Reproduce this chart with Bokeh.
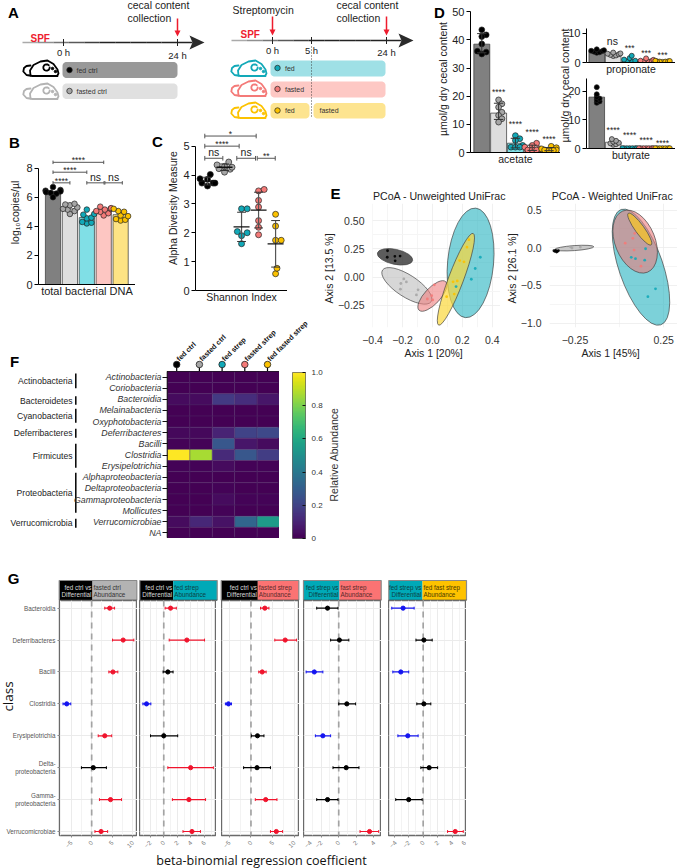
import numpy as np
from bokeh.plotting import figure
from bokeh.embed import file_html
from bokeh.resources import INLINE
from bokeh.core.properties import value
from bokeh.models import FixedTicker, FactorRange, Range1d
from bokeh.palettes import Viridis256
from bokeh.transform import linear_cmap

FONT = "Liberation Sans"
GROUP_COLORS = ["#000000", "#a6a6a6", "#12a9b8", "#f47a78", "#fcc200"]
BAR_COLORS = ["#808080", "#dedede", "#80dfe6", "#fdc6c2", "#fde384"]

# ---- panel B
b_values = [[6.7, 6.5, 6.45, 6.4, 6.35, 6.3, 6.25, 6.0],
            [4.85, 5.05, 5.15, 5.2, 5.3, 5.45, 5.55, 5.5],
            [4.2, 4.25, 4.3, 4.55, 4.6, 4.8, 4.85, 5.15],
            [4.75, 4.9, 5.0, 5.05, 5.15, 5.2, 5.25, 5.35],
            [4.4, 4.45, 4.5, 4.7, 4.75, 5.0, 5.05, 5.2]]
b_heights = [6.4, 5.2, 4.6, 5.1, 4.8]
b_brackets = [(0, 3, 8.4, "****"), (0, 2, 7.72, "****"), (0, 1, 6.99, "****"),
              (2, 3.02, 6.99, "ns"), (3.07, 4.1, 6.99, "ns")]
# ---- panel C
c_values = [[3.62, 3.72, 3.72, 3.72, 3.85, 3.87, 4.02],
            [4.1, 4.2, 4.22, 4.27, 4.3, 4.35, 4.45],
            [1.62, 1.9, 2.0, 2.04, 2.83, 2.83],
            [1.93, 2.19, 2.42, 2.89, 3.12, 3.45, 3.5],
            [0.58, 0.77, 1.74, 1.74, 2.23, 2.64]]
c_brackets = [(-0.16, 2.86, 5.35, "*"), (-0.16, 1.86, 5.0, "****"), (-0.16, 0.9, 4.58, "ns"),
              (1.72, 2.82, 4.58, "ns"), (2.92, 3.98, 4.58, "**")]
# ---- panel D
acetate = [[43.6, 41.8, 41.2, 38.6, 36, 35.7, 35],
           [18.7, 17.3, 16.1, 14.3, 13.2, 12, 10.8],
           [6, 4.9, 4.3, 2.5, 1.9, 1.9, 1.9],
           [3.3, 2.5, 1.9, 1.3, 0.9, 0.9, 0.9],
           [2.2, 1.7, 1.3, 0.9, 0.9, 0.7, 0.7]]
acetate_h = [38.5, 14, 3.3, 1.5, 1.2]
acetate_sig = [None, 21.4, 10, 7.2, 4.9]
propionate = [[3.3, 3.5, 3.7, 3.9, 4.0, 4.2, 4.5],
              [2.2, 2.4, 2.6, 2.8, 3.0, 3.1, 3.4],
              [0.2, 0.3, 0.4, 0.6, 1.0, 1.5, 2.3],
              [0.2, 0.3, 0.3, 0.5, 0.6, 0.9, 1.4],
              [0.2, 0.3, 0.3, 0.4, 0.4, 0.5, 0.6]]
propionate_h = [3.8, 2.8, 0.5, 0.5, 0.3]
propionate_sig = [None, None, 5.0, 3.3, 2.4]
butyrate = [[16, 16.5, 17, 17.5, 18, 19, 21.5],
            [1.3, 1.5, 1.8, 2.0, 2.4, 2.7, 3.3],
            [0.1] * 7, [0.1] * 7, [0.1] * 7]
butyrate_h = [18, 2.2, 0.2, 0.2, 0.2]
butyrate_sig = [None, 6.6, 4.6, 3.1, 2.0]
# ---- panel E
pcoa_u_x = [-0.30, -0.302, -0.251, -0.216, -0.249, -0.191, -0.174, -0.211, -0.214, -0.096, -0.107,
            0.013, -0.034, -0.005, 0.002, 0.095, 0.138, 0.166, 0.146, 0.182, 0.211, 0.231, 0.244, 0.32, 0.286, 0.26, 0.158]
pcoa_u_y = [0.234, 0.176, 0.184, 0.187, 0.144, -0.017, -0.044, -0.058, -0.108, -0.114, -0.16,
            -0.07, -0.196, -0.166, -0.204, -0.175, -0.043, -0.035, -0.152, 0.147, 0.135, 0.266, 0.333, 0.176, 0.076, -0.02, -0.085]
pcoa_u_g = [0] * 5 + [1] * 6 + [3] * 4 + [4] * 8 + [2] * 4
pcoa_u_ell = [(0.255, 0.126, 110, 46, 84.6, "#25b3bf", 0.6), (-0.25, 0.18, 36, 15, -12, "#333333", 0.8),
              (-0.171, -0.079, 58, 22, -33, "#bdbdbd", 0.6), (0.0, -0.169, 39, 16, 47, "#ee7f7f", 0.6),
              (0.157, -0.02, 98, 15, 69.4, "#fbd73a", 0.7)]
pcoa_w_x = [-0.369, -0.359, -0.35, -0.344, -0.363, -0.354, -0.276, -0.267, -0.22, 0.087, 0.076, 0.033, 0.083, 0.122,
            0.148, 0.143, 0.067, 0.091, 0.204, 0.161]
pcoa_w_y = [-0.039, -0.035, -0.048, -0.039, -0.048, -0.056, 0.013, -0.004, 0.009, 0.192, 0.126, 0.061, -0.03, -0.244,
            -0.013, -0.165, -0.126, -0.144, -0.544, -0.648]
pcoa_w_g = [0] * 6 + [1] * 3 + [3] * 5 + [2] * 6
pcoa_w_ell = [(0.122, -0.257, 122, 44, -71, "#25b3bf", 0.6), (0.089, 0.082, 66, 40, -68, "#ec7c7c", 0.6),
              (0.115, 0.248, 39, 9, -54, "#f2c12e", 0.8), (-0.254, -0.004, 39, 5, 4, "#bdbdbd", 0.8)]
# ---- panel F
f_rows = ["Actinobacteria", "Coriobacteria", "Bacteroidia", "Melainabacteria", "Oxyphotobacteria", "Deferribacteres",
          "Bacilli", "Clostridia", "Erysipelotrichia", "Alphaproteobacteria", "Deltaproteobacteria",
          "Gammaproteobacteria", "Mollicutes", "Verrucomicrobiae", "NA"]
f_cols = ["fed ctrl", "fasted ctrl", "fed strep", "fasted strep", "fed fasted strep"]
f_fed_ctrl = [0.0, 0.0, 0.03, 0.0, 0.0, 0.02, 0.01, 1.0, 0.01, 0.0, 0.0, 0.0, 0.0, 0.03, 0.0]
f_fasted_ctrl = [0.0, 0.0, 0.03, 0.0, 0.0, 0.02, 0.01, 0.87, 0.01, 0.0, 0.0, 0.0, 0.0, 0.11, 0.0]
f_fed_strep = [0.0, 0.0, 0.17, 0.0, 0.0, 0.1, 0.27, 0.12, 0.03, 0.0, 0.01, 0.03, 0.01, 0.05, 0.0]
f_fasted_strep = [0.0, 0.0, 0.13, 0.0, 0.0, 0.2, 0.06, 0.27, 0.01, 0.0, 0.0, 0.01, 0.0, 0.33, 0.0]
f_fed_fasted = [0.0, 0.0, 0.06, 0.0, 0.0, 0.22, 0.03, 0.18, 0.01, 0.0, 0.0, 0.01, 0.0, 0.55, 0.0]
f_phyla = [("Actinobacteria", 373, 387.7), ("Bacteroidetes", 395.7, 404.3), ("Cyanobacteria", 408.3, 422.3),
           ("Deferribacteres", 428.3, 437.3), ("Firmicutes", 443.3, 467.3), ("Proteobacteria", 472.3, 512.3),
           ("Verrucomicrobia", 518.3, 527.3)]
# ---- panel G
g_classes = ["Bacteroidia", "Deferribacteres", "Bacilli", "Clostridia", "Erysipelotrichia",
             "Delta-\nproteobacteria", "Gamma-\nproteobacteria", "Verrucomicrobiae"]
g1_low = [3.2, 5.1, 4.2, -7.0, 1.6, -2.5, 1.9, 0.8]
g1_mid = [4.4, 7.7, 5.2, -6.1, 3.2, 0.4, 4.6, 2.3]
g1_high = [5.6, 10.3, 6.4, -5.1, 4.9, 3.6, 7.3, 3.9]
g1_col = ["r", "r", "r", "b", "r", "k", "r", "r"]
g2_low = [0.2, 0.8, -0.1, -3.07, -1.95, 0.6, 1.27, 2.83]
g2_mid = [1.0, 3.4, 0.6, -2.54, 0.0, 3.95, 3.7, 4.15]
g2_high = [1.85, 6.0, 1.37, -1.9, 2.05, 7.3, 6.15, 5.4]
g2_col = ["r", "r", "k", "b", "k", "r", "r", "r"]
g3_low = [2.2, 5.5, 1.8, -5.9, 0.1, -1.7, 1.0, 4.5]
g3_mid = [3.2, 7.9, 2.6, -5.2, 1.5, 1.4, 3.4, 5.85]
g3_high = [4.15, 10.5, 3.5, -4.5, 3.0, 4.5, 6.0, 7.3]
g3_col = ["r", "r", "r", "b", "k", "k", "r", "r"]
g4_low = [-2.5, -0.92, -3.7, 0.0, -2.65, -0.65, -2.5, 2.42]
g4_mid = [-1.27, 0.08, -2.77, 0.92, -1.8, 0.85, -1.27, 3.5]
g4_high = [-0.08, 1.15, -1.8, 1.92, -0.92, 2.3, -0.08, 4.54]
g4_col = ["k", "k", "b", "k", "b", "k", "k", "r"]
g5_low = [-4.35, -1.0, -4.2, -0.88, -3.5, -0.32, -3.8, 3.38]
g5_mid = [-2.78, 0.1, -3.1, 0.1, -2.13, 0.83, -2.0, 4.44]
g5_high = [-1.25, 1.25, -2.0, 1.06, -0.7, 2.0, -0.14, 5.55]
g5_col = ["b", "k", "b", "k", "b", "k", "k", "r"]

figs = []


def panel(l, t, r, b, xr, yr, pl=0, pt=0, pr=0, pb=0, **kw):
    """Figure whose plot frame covers page pixels l..r, t..b."""
    p = figure(width=int(round(r - l)) + pl + pr, height=int(round(b - t)) + pt + pb,
               x_range=xr, y_range=yr, output_backend="svg", toolbar_location=None,
               min_border_left=pl, min_border_right=pr, min_border_top=pt, min_border_bottom=pb,
               background_fill_alpha=0, border_fill_alpha=0, outline_line_color=None,
               styles={"position": "absolute", "left": f"{int(round(l)) - pl}px", "top": f"{int(round(t)) - pt}px"},
               **kw)
    p.grid.visible = False
    figs.append(p)
    return p


# ============ canvas in page pixels ==========
cv = panel(0, 0, 677, 868, Range1d(0, 677), Range1d(868, 0))
cv.axis.visible = False


def T(x, y, s, size=10.5, color="#222222", align="left", base="middle", angle=0, style="normal", font=FONT):
    cv.text(x=[x], y=[y], text=[s], text_font=value(font), text_font_size=f"{size}px", text_color=color,
            text_align=align, text_baseline=base, angle=-np.deg2rad(angle), text_font_style=style)


def rrect(l, t, r, b, color, rad=4.0):
    a = np.linspace(0, np.pi / 2, 8)
    xs = np.r_[r - rad + rad * np.sin(a), r - rad + rad * np.cos(a), l + rad - rad * np.sin(a), l + rad - rad * np.cos(a)]
    ys = np.r_[t + rad - rad * np.cos(a), b - rad + rad * np.sin(a), b - rad + rad * np.cos(a), t + rad - rad * np.sin(a)]
    cv.patch(xs, ys, fill_color=color, line_color=None)


def dot(x, y, fill, d=5.5, line="#222222", lw=0.7):
    cv.scatter([x], [y], size=d, fill_color=fill, line_color=line, line_width=lw)


def timeline(x0, x1, y, ticks):
    xs = np.linspace(x0, x1 - 12, 12)
    for i in range(11):
        g = int(170 - 135 * min(1, i / 5))
        cv.line(xs[i:i + 2], [y, y], line_color=f"#{g:02x}{g:02x}{g:02x}", line_width=1.3)
    cv.patch([x1 - 15, x1, x1 - 15, x1 - 12], [y - 7, y, y + 7, y], fill_color="#2b2b2b", line_color=None)
    for t in ticks:
        cv.line([t, t], [y - 3.5, y + 3.5], line_color="#222222", line_width=1)


def red_arrow(x, y0, y1):
    cv.line([x, x], [y0, y1 - 4], line_color="#ee1c2e", line_width=1.5)
    cv.patch([x - 3, x + 3, x], [y1 - 6, y1 - 6, y1], fill_color="#ee1c2e", line_color=None)


def mouse(x, y, c):
    tail = [(35, 16.5), (28, 16.5), (10, 16.5), (4, 15.5), (0.8, 12), (1.5, 8.5), (4, 6.5), (8, 6)]
    body = [(8, 16), (7.5, 11), (11, 5.5), (18, 2), (25, 1), (31, 4.5), (35, 10), (36, 14), (34.5, 16.5)]
    ear = [(24 + 3.2 * np.cos(a), 8 + 3.2 * np.sin(a)) for a in np.linspace(0, 5.5, 14)]
    for path in (tail, body, ear):
        cv.line([x + q[0] for q in path], [y + q[1] for q in path], line_color=c, line_width=1.8,
                line_join="round", line_cap="round")
    cv.scatter([x + 30, x + 33], [y + 9, y + 12], size=2.5, fill_color=c, line_color=c)


# Panel letters
for s, x, y in [("A", 13, 12), ("B", 14, 142), ("C", 157, 141), ("D", 439, 12), ("E", 335, 193), ("F", 14, 361), ("G", 13, 578)]:
    T(x, y, s, size=15, color="#000000", align="center", style="bold")

# Panel A
timeline(22, 204, 42, [63, 177])
timeline(231, 413, 40, [272, 311, 386])
red_arrow(177, 18, 36)
red_arrow(272, 16, 35)
red_arrow(386, 16, 35)
T(30, 38, "SPF", size=10, color="#ee1c2e", style="bold")
T(240, 34, "SPF", size=10, color="#ee1c2e", style="bold")
T(127, 4, "cecal content", size=10.5)
T(127, 17, "collection", size=10.5)
T(336, 4, "cecal content", size=10.5)
T(336, 17, "collection", size=10.5)
T(232, 9, "Streptomycin", size=10.5)
for x, y, s in [(63, 52, "0 h"), (177, 55, "24 h"), (272, 50, "0 h"), (311, 50, "5 h"), (386, 52, "24 h")]:
    T(x, y, s, size=9.5, align="center")
mouse(22, 59, "#000000")
mouse(22, 82, "#b3b3b3")
mouse(230, 59, "#12a9b8")
mouse(230, 79, "#f47a78")
mouse(230, 101, "#fcc200")
rrect(62, 61.5, 177, 77.5, "#999999")
rrect(62, 83, 177, 98.5, "#e0e0e0")
rrect(270, 60, 385, 76, "#9fe0e6")
rrect(270, 81, 385, 97, "#fdc8c4")
rrect(270, 102.5, 309, 118, "#fde490")
rrect(313, 102.5, 385, 118, "#fde490")
cv.line([311, 311], [46, 118], line_color="#333333", line_width=0.9, line_dash="1 2")
dot(69, 69.5, "#000000")
dot(69, 90.5, "#a6a6a6")
dot(277, 67.5, "#12a9b8")
dot(277, 88.5, "#f47a78")
dot(277, 110, "#fcc200")
T(76, 70, "fed ctrl", size=7, color="#333333")
T(76, 90.5, "fasted ctrl", size=7, color="#333333")
T(284.5, 67.5, "fed", size=7, color="#333333")
T(284.5, 88.5, "fasted", size=7, color="#333333")
T(284.5, 110, "fed", size=7, color="#333333")
T(319, 110, "fasted", size=7, color="#333333")

# Panel E titles
T(439, 195, "PCoA - Unweighted UniFrac", size=10.6, align="center")
T(612, 195, "PCoA - Weighted UniFrac", size=10.6, align="center")

# Panel F decorations
for name, y0, y1 in f_phyla:
    cv.line([75.3, 75.3], [y0, y1], line_color="#000000", line_width=1.5)
    T(72, (y0 + y1) / 2, name, size=8.6, align="right")
for i, name in enumerate(f_cols):
    cx = 176.2 + 22.7 * i
    cv.line([cx, cx], [364, 371], line_color="#000000", line_width=1.2)
    dot(cx, 364, GROUP_COLORS[i], d=6.5, line="#222222", lw=0.8)
    T(cx + 1, 359.5, name, size=7.2, color="#111111", base="middle", angle=-45, style="bold")
T(333, 454, "Relative Abundance", size=10.5, color="#333333", align="center", angle=-90)

# Panel G strips
strips = [(58.7, 92, 136.3, "#000000", "#b3b3b3", "fed ctrl vs", "Differential", "fasted ctrl", "#d8d8d8", "#333333"),
          (139.3, 172.7, 216.7, "#000000", "#00a9b7", "fed ctrl vs", "Differential", "fed strep", "#d8d8d8", "#0d3f45"),
          (220.7, 257.3, 298.3, "#000000", "#fb7373", "fed ctrl vs", "Differential", "fasted strep", "#d8d8d8", "#5a2a2a"),
          (303, 339, 380.7, "#00a9b7", "#fb7373", "fed strep vs", "Differential", "fast strep", "#0d3f45", "#5a2a2a"),
          (388.3, 422, 466, "#00a9b7", "#fec200", "fed strep vs", "Differential", "fed fast strep", "#0d3f45", "#4a3a00")]
for l, m, r, c1, c2, a, b, c, tc1, tc2 in strips:
    cv.quad(left=[l], right=[m], top=[580], bottom=[599.7], fill_color=c1, line_color=None)
    cv.quad(left=[m], right=[r], top=[580], bottom=[599.7], fill_color=c2, line_color=None)
    cv.line([l, l, r, r], [599.7, 580, 580, 599.7], line_color="#8a8a8a", line_width=1.2)
    cv.line([l, r], [599.7, 599.7], line_color="#444444", line_width=1.0)
    T(m - 1, 586.5, a, size=6.3, color=tc1, align="right")
    T(m - 1, 593.7, b, size=6.3, color=tc1, align="right")
    T(m + 1, 586.5, c, size=6.3, color=tc2)
    T(m + 1, 593.7, "Abundance", size=6.3, color=tc2)
T(7, 696, "class", size=13.5, color="#111111", align="center", angle=-90, font="Open Sans")
T(261, 860, "beta-binomial regression coefficient", size=12.6, color="#111111", align="center", font="Open Sans")


# ============ helpers for dot-bar panels ==========
def swarm(vals, step, d):
    """Beeswarm offsets (px) so that points of spacing d do not overlap."""
    placed, out = [], {}
    for i in np.argsort(vals):
        v = vals[i] * step
        for c in np.r_[0, np.c_[np.arange(1, 40), -np.arange(1, 40)].ravel() * d * 0.25]:
            if all(np.hypot(v - a, c - b) >= d for a, b in placed):
                placed.append((v, c))
                out[i] = c
                break
    return [out[i] for i in range(len(vals))]


def axes_black(p, size="11px"):
    for ax in p.axis:
        ax.axis_line_color = "#000000"
        ax.major_tick_line_color = "#000000"
        ax.minor_tick_line_color = None
        ax.major_label_text_font = FONT
        ax.major_label_text_font_size = size
        ax.major_label_text_color = "#222222"
        ax.axis_label_text_font = FONT
        ax.axis_label_text_font_style = "normal"
        ax.axis_label_text_color = "#222222"
        ax.major_tick_out = 4
        ax.major_tick_in = 0
        ax.major_label_standoff = 2


def dotbar(p, heights, vals, pxstep, group_px, size, spacing, width=0.9, err=True):
    xs = np.arange(5)
    p.vbar(x=xs, top=heights, width=width, fill_color=BAR_COLORS, line_color="#333333", line_width=0.7)
    draw_points(p, vals, pxstep, group_px, size, spacing, err)


def draw_points(p, vals, pxstep, group_px, size, spacing, err, capw=0.28):
    for i, v in enumerate(vals):
        off = np.clip(swarm(v, pxstep, spacing), -0.44 * group_px, 0.44 * group_px)
        p.scatter(i + off / group_px, v, size=size, fill_color=GROUP_COLORS[i], line_color="#222222", line_width=0.7)
        if err:
            m, s = np.mean(v), np.std(v, ddof=1)
            p.segment([i], [m - s], [i], [m + s], line_color="#333333", line_width=1)
            p.segment([i - capw, i - capw], [m - s, m + s], [i + capw, i + capw], [m - s, m + s],
                      line_color="#333333", line_width=1)


def brackets(p, items, cap, star="8.5px", ns="10.5px"):
    for a, b, y, s in items:
        p.segment([a], [y], [b], [y], line_color="#555555", line_width=1)
        p.segment([a, b], [y - cap, y - cap], [a, b], [y + cap, y + cap], line_color="#555555", line_width=1)
        isns = s == "ns"
        p.text([(a + b) / 2], [y], text=[s], text_font=value(FONT), text_font_size=ns if isns else star,
               text_color="#222222", text_align="center", text_baseline="bottom", y_offset=0 if isns else 3)


def none_x(p, label, standoff):
    ax = p.xaxis[0]
    ax.ticker = FixedTicker(ticks=[])
    ax.axis_label = label
    ax.axis_label_standoff = standoff
    ax.major_label_text_font_size = "0px"


# ============ Panel B ==========
sb = 116.6 / 8
pb_ = panel(38, 140, 135, 284.3, Range1d(-0.858, 4.88), Range1d(0, 144.3 / sb), pl=38, pb=20)
dotbar(pb_, b_heights, b_values, sb, 16.9, 5.6, 4.6, err=False)
brackets(pb_, b_brackets, 0.12)
axes_black(pb_)
pb_.yaxis.bounds = (0, 8)
pb_.yaxis.ticker = FixedTicker(ticks=[0, 2, 4, 6, 8])
pb_.yaxis.axis_label = "log₁₀copies/µl"
pb_.yaxis.axis_label_text_font_size = "10.5px"
pb_.yaxis.axis_label_standoff = 2
none_x(pb_, "total bacterial DNA", 0)
pb_.xaxis.axis_label_text_font_size = "11px"

# ============ Panel C ==========
sc = 28.87
pc = panel(195, 125, 287, 290, Range1d(-0.706, 4.7), Range1d(0, 165 / sc), pl=38, pb=20)
draw_points(pc, c_values, sc, 17, 6, 5.6, False)
for i, v in enumerate(c_values):
    m, s = np.mean(v), np.std(v, ddof=1)
    pc.segment([i], [m - s], [i], [m + s], line_color="#555555", line_width=1.2)
    pc.segment([i - 0.26, i - 0.26], [m - s, m + s], [i + 0.26, i + 0.26], [m - s, m + s], line_color="#333333", line_width=1)
    pc.segment([i - 0.47], [m], [i + 0.47], [m], line_color="#111111", line_width=1.3)
brackets(pc, c_brackets, 0.08)
axes_black(pc)
pc.yaxis.bounds = (0, 5)
pc.yaxis.ticker = FixedTicker(ticks=[0, 1, 2, 3, 4, 5])
pc.yaxis.axis_label = "Alpha Diversity Measure"
pc.yaxis.axis_label_text_font_size = "10.5px"
pc.yaxis.axis_label_standoff = 1
none_x(pc, "Shannon Index", 0)
pc.xaxis.axis_label_text_font_size = "10.5px"


# ============ Panel D ==========
def sig(p, pos, s="****"):
    for i, y in enumerate(pos):
        if y is not None:
            p.text([i], [y], text=[s], text_font=value(FONT), text_font_size="8.5px", text_color="#222222",
                   text_align="center", text_baseline="middle")


sd = 2.814
pd_ = panel(470, 5, 560, 152, Range1d(-(481.3 - 470) / 16.8, (560 - 481.3) / 16.8), Range1d(0, 147 / sd), pl=42, pb=18)
dotbar(pd_, acetate_h, acetate, sd, 16.8, 5.8, 4.4, width=0.95)
sig(pd_, acetate_sig)
axes_black(pd_)
pd_.yaxis.bounds = (0, 50)
pd_.yaxis.ticker = FixedTicker(ticks=[0, 10, 20, 30, 40, 50])
pd_.yaxis.axis_label = "µmol/g dry cecal content"
pd_.yaxis.axis_label_text_font_size = "10.5px"
pd_.yaxis.axis_label_standoff = 0
none_x(pd_, "acetate", 0)
pd_.xaxis.axis_label_text_font_size = "10.5px"

sp = 2.93
pp = panel(585.7, 20, 675, 62, Range1d(-(596 - 585.7) / 16.5, (675 - 596) / 16.5), Range1d(0, 42 / sp), pl=26, pb=18)
dotbar(pp, propionate_h, propionate, sp, 16.5, 5, 2.8, width=0.95, err=False)
sig(pp, propionate_sig, "***")
pp.text([0.95], [7.3], text=["ns"], text_font=value(FONT), text_font_size="10.5px", text_color="#222222",
        text_align="center", text_baseline="middle")
axes_black(pp)
pp.yaxis.bounds = (0, 11.5)
pp.yaxis.ticker = FixedTicker(ticks=[0, 10])
none_x(pp, "propionate", 0)
pp.xaxis.axis_label_text_font_size = "10.5px"

sbt = 2.865
pq = panel(585.7, 72, 675, 148.3, Range1d(-(596 - 585.7) / 16.5, (675 - 596) / 16.5), Range1d(0, 76.3 / sbt), pl=26, pb=18)
dotbar(pq, butyrate_h, butyrate, sbt, 16.5, 5, 2.8, width=0.95, err=False)
sig(pq, butyrate_sig)
axes_black(pq)
pq.yaxis.bounds = (0, 24.5)
pq.yaxis.ticker = FixedTicker(ticks=[0, 10, 20])
none_x(pq, "butyrate", 0)
pq.xaxis.axis_label_text_font_size = "10.5px"
T(564.5, 85, "µmol/g dry cecal content", size=10.5, align="center", angle=-90)


# ============ Panel E ==========
def pcoa(p, ell, xs, ys, gs):
    p.grid.visible = True
    p.grid.grid_line_color = "#ececec"
    p.grid.minor_grid_line_color = "#f5f5f5"
    p.grid.grid_line_width = 0.8
    for x, y, a, b, ang, c, alpha in ell:
        p.ellipse([x], [y], width=[a], height=[b], angle=[np.deg2rad(ang)], width_units="screen", height_units="screen",
                  fill_color=c, fill_alpha=alpha, line_color="#444444", line_width=0.7)
    p.scatter(xs, ys, size=2.8, fill_color=[GROUP_COLORS[g] for g in gs], line_color=None, fill_alpha=0.9)
    for ax in p.axis:
        ax.axis_line_color = None
        ax.major_tick_line_color = None
        ax.minor_tick_line_color = None
        ax.major_label_text_font = FONT
        ax.major_label_text_font_size = "10.5px"
        ax.major_label_text_color = "#333333"
        ax.axis_label_text_font = FONT
        ax.axis_label_text_font_style = "normal"
        ax.axis_label_text_font_size = "10.5px"
        ax.axis_label_text_color = "#222222"
        ax.major_label_standoff = 2
        ax.axis_label_standoff = 0


pe1 = panel(372, 203, 500, 329, Range1d(-0.4005, 0.455), Range1d((277.7 - 329) / 114, (277.7 - 203) / 114), pl=55, pb=32)
pcoa(pe1, pcoa_u_ell, pcoa_u_x, pcoa_u_y, pcoa_u_g)
pe1.xaxis.ticker = FixedTicker(ticks=[-0.4, -0.2, 0.0, 0.2, 0.4], minor_ticks=[-0.3, -0.1, 0.1, 0.3])
pe1.yaxis.ticker = FixedTicker(ticks=[-0.25, 0, 0.25, 0.5], minor_ticks=[-0.125, 0.125, 0.375])
pe1.xaxis.major_label_overrides = {-0.4: "−0.4", -0.2: "−0.2", 0.0: "0.0", 0.2: "0.2", 0.4: "0.4"}
pe1.yaxis.major_label_overrides = {-0.25: "−0.25", 0: "0.00", 0.25: "0.25", 0.5: "0.50"}
pe1.xaxis.axis_label = "Axis 1   [20%]"
pe1.yaxis.axis_label = "Axis 2   [13.5 %]"

pe2 = panel(547, 203, 677, 329, Range1d(-0.394, 0.328), Range1d((248 - 329) / 76.6, (248 - 203) / 76.6), pl=45, pb=32)
pcoa(pe2, pcoa_w_ell, pcoa_w_x, pcoa_w_y, pcoa_w_g)
pe2.xaxis.ticker = FixedTicker(ticks=[-0.25, 0.25], minor_ticks=[0.0])
pe2.yaxis.ticker = FixedTicker(ticks=[-1, -0.5, 0, 0.5], minor_ticks=[-0.75, -0.25, 0.25])
pe2.xaxis.major_label_overrides = {-0.25: "−0.25", 0.25: "0.25"}
pe2.yaxis.major_label_overrides = {-1: "−1.0", -0.5: "−0.5", 0: "0.0", 0.5: "0.5"}
pe2.xaxis.axis_label = "Axis 1   [45%]"
pe2.yaxis.axis_label = "Axis 2   [26.1 %]"

# ============ Panel F ==========
pf = panel(165, 370.7, 278.7, 537.7, FactorRange(factors=f_cols, range_padding=0, factor_padding=0),
           FactorRange(factors=list(reversed(f_rows)), range_padding=0, factor_padding=0), pl=95)
f_x, f_y, f_v = [], [], []
for name, col in zip(f_cols, [f_fed_ctrl, f_fasted_ctrl, f_fed_strep, f_fasted_strep, f_fed_fasted]):
    f_x += [name] * len(f_rows)
    f_y += f_rows
    f_v += col
f_data = dict(x=f_x, y=f_y, v=f_v)
pf.rect("x", "y", width=1, height=1, source=f_data,
        fill_color=linear_cmap("v", Viridis256, 0, 1), line_color="#4b2a66", line_width=0.4)
pf.xaxis.visible = False
pf.outline_line_color = "#111111"
pf.outline_line_width = 1.6
ax = pf.yaxis[0]
ax.axis_line_color = None
ax.major_tick_line_color = "#111111"
ax.major_tick_out = 5
ax.major_tick_in = 0
ax.major_label_standoff = 1
ax.major_label_text_font = FONT
ax.major_label_text_font_style = "italic"
ax.major_label_text_font_size = "8.8px"
ax.major_label_text_color = "#333333"

cb_levels = np.linspace(0, 1, 128).reshape(-1, 1)
pcb = panel(291.7, 371.7, 305, 537.7, Range1d(0, 1), Range1d(0, 1), pr=30, pt=8, pb=8, y_axis_location="right")
pcb.image(image=[cb_levels], x=0, y=0, dw=1, dh=1, palette=Viridis256, level="image")
pcb.xaxis.visible = False
pcb.outline_line_color = "#666666"
pcb.outline_line_width = 1
ax = pcb.yaxis[0]
ax.ticker = FixedTicker(ticks=[0, 0.2, 0.4, 0.6, 0.8, 1.0])
ax.major_label_overrides = {0: "0", 0.2: "0.2", 0.4: "0.4", 0.6: "0.6", 0.8: "0.8", 1.0: "1.0"}
ax.axis_line_color = None
ax.major_tick_in = 3
ax.major_tick_out = 0
ax.major_tick_line_color = "#111111"
ax.minor_tick_line_color = None
ax.major_label_text_font = FONT
ax.major_label_text_font_size = "8px"
ax.major_label_text_color = "#333333"
ax.major_label_standoff = 6

# ============ Panel G ==========
CMAP = {"r": "#f0142d", "b": "#1414f0", "k": "#000000"}
g_specs = [(58.7, 136.3, -7.86, 11.2, [-5, 0, 5, 10], g1_low, g1_mid, g1_high, g1_col),
           (139.3, 216.7, -3.57, 7.76, [-2, 0, 2, 4, 6], g2_low, g2_mid, g2_high, g2_col),
           (220.7, 298.3, -6.8, 11.2, [-5, 0, 5, 10], g3_low, g3_mid, g3_high, g3_col),
           (303, 380.7, -4.0, 4.86, [-4, -2, 0, 2, 4], g4_low, g4_mid, g4_high, g4_col),
           (388.3, 466, -4.8, 6.0, [-4, -2, 0, 2, 4, 6], g5_low, g5_mid, g5_high, g5_col)]
ypos = list(range(8))
for k, (l, r, x0, x1, ticks, lo, mid, hi, col) in enumerate(g_specs):
    p = panel(l, 599.7, r, 835, Range1d(x0, x1), Range1d(7.125, -0.24), pl=58 if k == 0 else 0, pb=20)
    p.grid.visible = True
    p.xgrid.grid_line_color = "#ebebeb"
    p.xgrid.minor_grid_line_color = "#f3f3f3"
    p.ygrid.grid_line_color = "#ebebeb"
    p.ygrid.ticker = FixedTicker(ticks=ypos)
    step = ticks[1] - ticks[0]
    minors = [t + step / 2 for t in ticks] + [ticks[0] - step / 2]
    p.xaxis.ticker = FixedTicker(ticks=ticks, minor_ticks=minors)
    p.line([0, 0], [-0.24, 7.125], line_color="#a3a3a3", line_width=1.7, line_dash="6 5")
    colors = [CMAP[c] for c in col]
    p.segment(lo, ypos, hi, ypos, line_color=colors, line_width=1.2)
    capy = 0.045
    p.segment(lo, [y - capy for y in ypos], lo, [y + capy for y in ypos], line_color=colors, line_width=1)
    p.segment(hi, [y - capy for y in ypos], hi, [y + capy for y in ypos], line_color=colors, line_width=1)
    p.scatter(mid, ypos, size=4.2, fill_color=colors, line_color=colors)
    p.outline_line_color = "#6a6a6a"
    p.outline_line_width = 1.4
    xa = p.xaxis[0]
    xa.axis_line_color = None
    xa.major_tick_line_color = "#888888"
    xa.minor_tick_line_color = None
    xa.major_tick_out = 2
    xa.major_tick_in = 0
    xa.major_label_text_font = FONT
    xa.major_label_text_font_size = "6.3px"
    xa.major_label_text_color = "#777777"
    xa.major_label_orientation = np.pi / 4
    xa.major_label_standoff = 2
    ya = p.yaxis[0]
    if k == 0:
        ya.ticker = FixedTicker(ticks=ypos)
        ya.major_label_overrides = {i: s for i, s in enumerate(g_classes)}
        ya.major_label_text_font = FONT
        ya.major_label_text_font_size = "6.3px"
        ya.major_label_text_color = "#555555"
        ya.axis_line_color = None
        ya.major_tick_line_color = "#888888"
        ya.minor_tick_line_color = None
        ya.major_tick_out = 2
        ya.major_tick_in = 0
        ya.major_label_standoff = 2
    else:
        p.yaxis.visible = False

open("out.html", "w").write(file_html(figs, INLINE))
